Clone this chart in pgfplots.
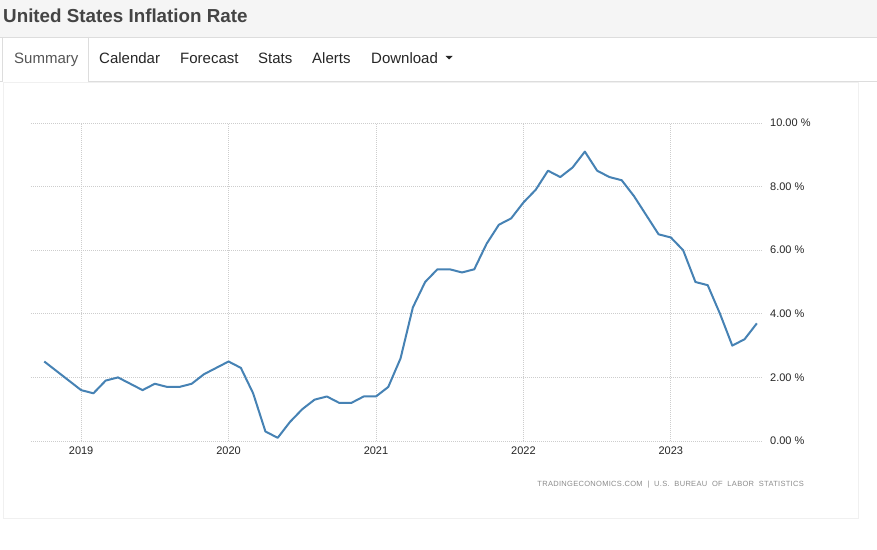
\documentclass[border=0pt]{standalone}
\usepackage{pgfplots}
\pgfplotsset{compat=1.18}
\usepackage{fontspec}
\setmainfont{Liberation Sans}
\definecolor{lineblue}{RGB}{70,130,180}
\definecolor{hdrbg}{RGB}{245,245,245}
\definecolor{bordergray}{RGB}{221,221,221}
\definecolor{tabtext}{RGB}{85,85,85}
\definecolor{titletext}{RGB}{68,68,68}
\definecolor{gridgray}{RGB}{205,205,205}
\definecolor{srcgray}{RGB}{140,140,140}
\begin{document}
\begin{tikzpicture}[x=1pt,y=1pt]
\path[use as bounding box] (0,0) rectangle (877,549);
\fill[white] (0,0) rectangle (877,549);
% header
\fill[hdrbg] (0,512) rectangle (877,549);
\draw[bordergray] (0,512) -- (877,512);
\node[anchor=base west, inner sep=0pt, font=\bfseries\fontsize{18.8}{22}\selectfont, text=titletext] at (3,526) {United States Inflation Rate};
% tabs
\draw[bordergray] (0,468) -- (2.5,468) -- (2.5,512);
\draw[bordergray] (88.5,512) -- (88.5,468) -- (877,468);
\begin{scope}[every node/.style={anchor=base west, inner sep=0pt, font=\fontsize{15}{18}\selectfont}]
\node[text=tabtext] at (14,485.5) {Summary};
\node[text=black!85] at (99,485.5) {Calendar};
\node[text=black!85] at (180,485.5) {Forecast};
\node[text=black!85] at (258,485.5) {Stats};
\node[text=black!85] at (312,485.5) {Alerts};
\node[text=black!85] at (371,485.5) {Download};
\end{scope}
\fill[black!85] (445.5,493) -- (452.5,493) -- (449,489.5) -- cycle;
% chart panel
\draw[black!6] (3.5,467) rectangle (858.5,31);
\begin{axis}[
  at={(31pt,108pt)}, anchor=south west,
  width=732pt, height=318pt, scale only axis,
  xmin=-4.08, xmax=55.5, ymin=0, ymax=10,
  axis line style={draw=none},
  major tick length=0pt,
  grid=major,
  grid style={gridgray, line width=0.8pt, dash pattern=on 1pt off 1pt},
  xtick={0,12,24,36,48},
  xticklabels={2019,2020,2021,2022,2023},
  ytick={0,2,4,6,8,10},
  yticklabel pos=right,
  /pgf/number format/assume math mode=true,
  yticklabel={\pgfmathprintnumber[fixed,fixed zerofill,precision=2,assume math mode=true]{\tick}~\%},
  yticklabel style={anchor=west, inner sep=0pt, xshift=7pt, font=\fontsize{11}{13}\selectfont, text=black!85},
  xticklabel style={anchor=north, inner sep=0pt, yshift=-6pt, font=\fontsize{11}{13}\selectfont, text=black!85},
  clip=false,
]
\addplot[lineblue, line width=2pt, line join=round, mark=none] coordinates {
(-3,2.5) (-2,2.2) (-1,1.9) (0,1.6) (1,1.5) (2,1.9) (3,2.0) (4,1.8) (5,1.6) (6,1.8)
(7,1.7) (8,1.7) (9,1.8) (10,2.1) (11,2.3) (12,2.5) (13,2.3) (14,1.5) (15,0.3) (16,0.1)
(17,0.6) (18,1.0) (19,1.3) (20,1.4) (21,1.2) (22,1.2) (23,1.4) (24,1.4) (25,1.7) (26,2.6)
(27,4.2) (28,5.0) (29,5.4) (30,5.4) (31,5.3) (32,5.4) (33,6.2) (34,6.8) (35,7.0) (36,7.5)
(37,7.9) (38,8.5) (39,8.3) (40,8.6) (41,9.1) (42,8.5) (43,8.3) (44,8.2) (45,7.7) (46,7.1)
(47,6.5) (48,6.4) (49,6.0) (50,5.0) (51,4.9) (52,4.0) (53,3.0) (54,3.2) (55,3.7)
};
\end{axis}
\node[anchor=east, inner sep=0pt, font=\fontsize{7.5}{9}\selectfont\addfontfeature{LetterSpace=4}, text=srcgray] at (804,64) {TRADINGECONOMICS.COM\ \ |\ \ U.S.\ \ BUREAU\ \ OF\ \ LABOR\ \ STATISTICS};
\end{tikzpicture}
\end{document}
